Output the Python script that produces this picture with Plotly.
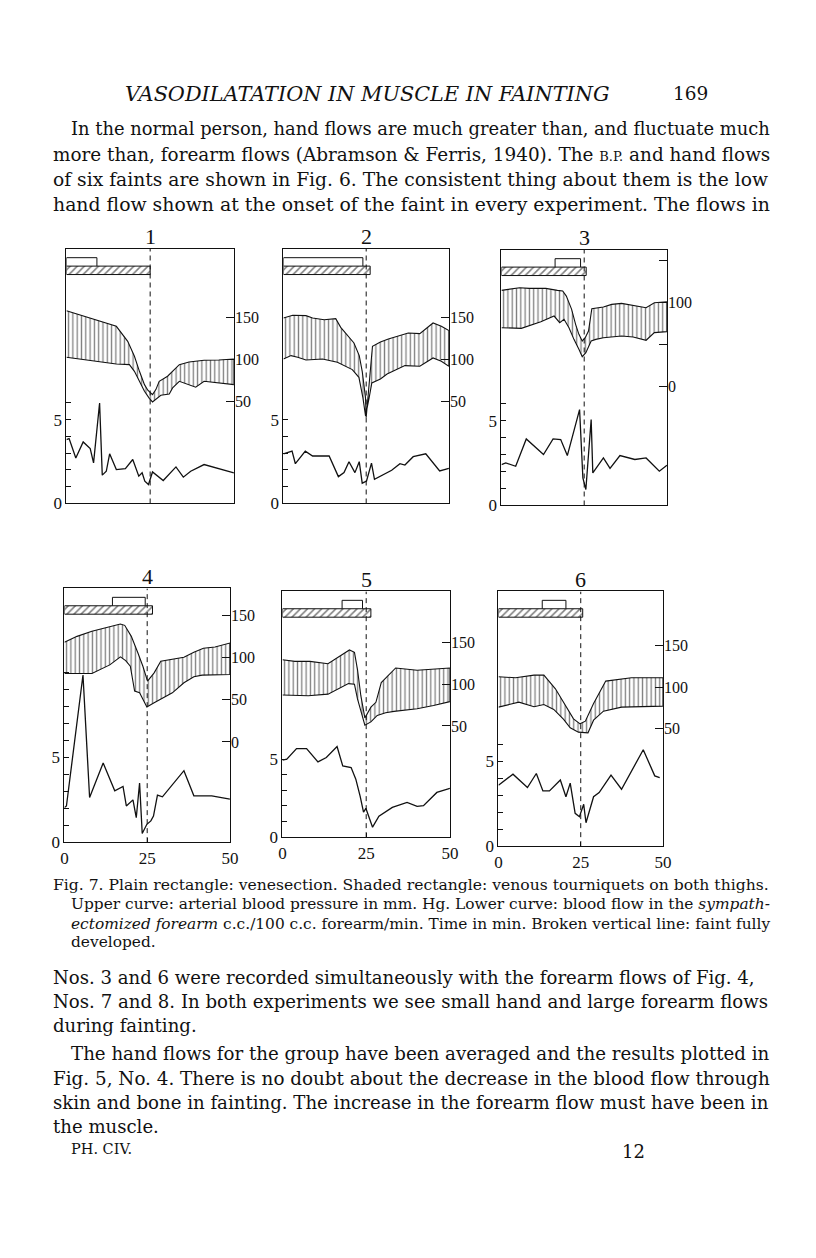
import plotly.graph_objects as go

W, H = 816, 1258
SERIF = "Liberation Serif"
BODY = "DejaVu Serif"
SX, SY = 1.007, 1.007  # small page-geometry correction

# ---------------- data (time in min) ----------------
panel_labels = ["1", "2", "3", "4", "5", "6"]
faint_time = [25, 25, 25, 25, 25, 25]

venesection_start = [0, 0, 16.2, 14.5, 17.8, 13.3]
venesection_end = [9.1, 24.0, 23.9, 24.4, 23.9, 20.5]
tourniquet_start = [0, 0, 0, 0, 0, 0]
tourniquet_end = [25.0, 26.2, 25.6, 26.6, 26.4, 25.6]

# Upper curve: systolic / diastolic blood pressure (mm Hg)
sys_t_1 = [0, 14.9, 18.3, 20.3, 21.8, 23.3, 24.3, 25.2, 25.7, 26.7, 27.7, 30.2, 31.7, 33.7, 36.6, 41.1, 45.5, 50]
sys_1 = [158.3, 139.7, 121.8, 104.0, 86.1, 70.2, 63.5, 60.3, 58.3, 64.3, 74.2, 80.2, 86.1, 94.0, 97.2, 99.2, 99.6, 100.8]
dia_t_1 = [0, 14.9, 18.8, 20.3, 21.8, 23.3, 24.8, 25.7, 26.7, 28.2, 30.7, 31.7, 33.7, 36.6, 38.6, 41.1, 45.5, 50]
dia_1 = [102.8, 94.8, 94.0, 86.1, 74.2, 62.3, 53.6, 49.6, 52.4, 57.5, 59.1, 66.3, 74.2, 70.2, 67.1, 74.2, 72.6, 70.2]

sys_t_2 = [0, 2.8, 6.8, 8.8, 12.3, 15.8, 17.3, 21.3, 22.9, 23.8, 24.8, 25.0, 26.9, 29.3, 31.7, 34.7, 37.7, 41.2, 43.2, 45.2, 47.7, 50]
sys_2 = [149.6, 152.8, 152.4, 149.6, 147.6, 148.8, 138.5, 119.8, 104.8, 86.1, 54.4, 31.0, 115.9, 121.0, 124.6, 128.6, 131.7, 131.0, 137.7, 143.7, 139.7, 134.6]
dia_t_2 = [0, 2.3, 4.3, 6.8, 11.8, 16.3, 20.8, 22.8, 24.0, 24.8, 25.9, 26.7, 29.3, 31.3, 34.3, 36.7, 41.2, 45.2, 47.7, 50]
dia_2 = [100.8, 104.8, 102.8, 99.6, 100.8, 96.8, 88.1, 78.9, 54.8, 32.9, 54.8, 72.2, 77.0, 82.9, 88.1, 92.9, 92.1, 102.0, 98.0, 92.1]

sys_t_3 = [0, 2.5, 5.5, 8.4, 13.4, 16.9, 18.5, 19.6, 21.2, 22.4, 23.4, 24.4, 25.3, 26.3, 27.3, 30.8, 33.3, 36.3, 39.3, 43.7, 46.2, 50]
sys_3 = [114.7, 115.9, 117.9, 117.1, 117.1, 114.7, 113.9, 107.9, 92.1, 74.2, 62.3, 54.4, 58.3, 66.3, 92.9, 94.8, 98.0, 99.2, 96.8, 94.0, 100.0, 101.2]
dia_t_3 = [0, 6.0, 11.9, 15.9, 17.6, 18.9, 20.4, 21.9, 23.4, 24.4, 25.5, 27.1, 28.5, 30.8, 33.3, 36.3, 39.8, 43.7, 46.2, 50]
dia_3 = [70.2, 69.4, 77.4, 84.1, 76.2, 80.2, 70.2, 56.3, 44.4, 35.7, 40.5, 54.4, 56.3, 58.3, 59.5, 60.3, 59.1, 55.2, 64.3, 65.5]

sys_t_4 = [0, 3.8, 8.3, 13.7, 16.9, 18.2, 20.2, 22.2, 23.7, 25.1, 27.1, 29.1, 32.6, 36.1, 39.1, 42.0, 45.5, 50]
sys_4 = [118.4, 125.5, 131.5, 137.4, 140.2, 138.6, 125.5, 105.8, 90.0, 72.2, 82.1, 95.9, 97.9, 100.7, 106.6, 111.3, 112.9, 117.6]
dia_t_4 = [0, 8.3, 13.7, 16.9, 18.5, 19.9, 21.2, 22.7, 23.7, 24.9, 27.1, 29.1, 32.6, 36.1, 39.1, 41.6, 50]
dia_4 = [81.3, 81.3, 91.6, 101.1, 96.7, 90.0, 60.4, 58.4, 50.5, 41.5, 46.6, 51.3, 58.4, 70.3, 77.4, 79.4, 80.1]

sys_t_5 = [0, 3.7, 8.2, 13.6, 20.0, 21.5, 22.4, 23.4, 24.6, 26.4, 27.9, 29.5, 33.8, 40.2, 50]
sys_5 = [129.4, 127.5, 127.5, 124.7, 141.2, 138.4, 117.6, 86.3, 59.6, 72.5, 78.4, 102.0, 119.6, 116.9, 119.6]
dia_t_5 = [0, 7.7, 13.6, 19.7, 21.5, 22.4, 23.4, 24.6, 26.4, 28.3, 30.8, 33.3, 40.2, 45.1, 50]
dia_5 = [87.1, 86.3, 88.2, 100.8, 100.0, 82.4, 66.7, 51.0, 54.9, 62.7, 65.9, 67.5, 70.6, 74.5, 79.2]

sys_t_6 = [0, 5.2, 10.8, 13.8, 17.3, 20.5, 22.8, 24.8, 26.4, 28.9, 32.6, 40.4, 50]
sys_6 = [112.4, 111.2, 114.4, 114.4, 98.0, 78.0, 62.0, 56.0, 59.2, 80.4, 107.2, 111.2, 111.2]
dia_t_6 = [0, 6.2, 10.8, 13.8, 16.8, 19.8, 21.8, 24.3, 27.2, 28.9, 31.9, 37.4, 50]
dia_6 = [76.0, 82.0, 76.4, 79.2, 73.2, 61.2, 51.2, 46.0, 45.2, 60.4, 71.2, 76.0, 77.2]

# Lower curve: blood flow (c.c./100 c.c./min)
flow_t_1 = [0, 0.8, 2.8, 5.0, 7.1, 8.1, 9.9, 10.7, 11.9, 12.9, 14.9, 17.6, 19.8, 21.6, 22.6, 23.4, 24.5, 25.7, 28.9, 32.7, 34.9, 37.1, 41.1, 46.5, 50]
flow_1 = [3.81, 3.87, 2.71, 3.67, 3.27, 2.42, 5.99, 1.69, 1.92, 2.96, 2.02, 2.08, 2.62, 1.63, 1.83, 1.33, 1.13, 1.88, 1.37, 2.18, 1.57, 1.92, 2.32, 2.02, 1.83]
flow_t_2 = [0, 2.6, 3.6, 6.6, 8.8, 13.8, 16.6, 18.3, 19.8, 21.6, 22.9, 23.8, 25.1, 26.6, 27.5, 30.2, 32.7, 35.2, 36.7, 39.2, 43.0, 47.2, 50]
flow_2 = [2.96, 3.12, 2.37, 3.12, 2.83, 2.83, 1.60, 1.84, 2.49, 1.84, 2.49, 1.21, 1.34, 2.41, 1.44, 1.74, 1.98, 2.37, 2.29, 2.79, 2.96, 1.94, 2.09]
flow_t_3 = [0, 1.3, 4.3, 7.5, 12.7, 15.6, 17.9, 19.9, 23.6, 24.6, 25.5, 27.1, 27.6, 30.8, 32.8, 35.8, 40.3, 43.7, 47.7, 50]
flow_3 = [2.41, 2.51, 2.31, 3.92, 3.0, 3.92, 3.88, 2.94, 5.65, 1.63, 0.94, 5.06, 1.92, 2.80, 2.18, 2.94, 2.71, 2.80, 2.02, 2.37]
flow_t_4 = [0, 0.6, 5.6, 7.6, 11.7, 15.2, 17.7, 18.7, 20.7, 21.7, 22.7, 23.5, 24.9, 26.1, 26.9, 28.1, 29.6, 36.1, 39.1, 44.5, 50]
flow_4 = [2.04, 2.13, 9.84, 2.63, 4.66, 3.02, 3.28, 2.13, 2.49, 1.44, 3.48, 0.51, 1.05, 1.25, 1.54, 2.77, 2.67, 4.21, 2.73, 2.73, 2.53]
flow_t_5 = [0, 1.3, 4.2, 7.2, 10.6, 13.1, 16.3, 18.0, 20.5, 21.9, 23.2, 24.2, 24.9, 25.7, 26.9, 28.8, 32.8, 37.2, 40.2, 42.1, 46.1, 50]
flow_5 = [4.94, 5.0, 5.68, 5.68, 4.83, 5.11, 5.81, 4.57, 4.47, 3.72, 2.62, 1.60, 1.85, 1.34, 0.64, 1.34, 1.91, 2.23, 1.98, 2.02, 2.87, 3.13]
flow_t_6 = [0, 4.4, 8.8, 11.5, 13.5, 15.5, 18.8, 20.5, 21.8, 23.3, 24.6, 25.9, 26.6, 28.9, 30.6, 34.2, 37.4, 44.0, 47.5, 49.0]
flow_6 = [3.60, 4.25, 3.46, 4.29, 3.26, 3.26, 3.91, 2.92, 3.72, 1.94, 1.74, 2.47, 1.38, 2.92, 3.16, 4.19, 3.36, 5.69, 4.15, 4.05]

sys_t = [sys_t_1, sys_t_2, sys_t_3, sys_t_4, sys_t_5, sys_t_6]
sys_v = [sys_1, sys_2, sys_3, sys_4, sys_5, sys_6]
dia_t = [dia_t_1, dia_t_2, dia_t_3, dia_t_4, dia_t_5, dia_t_6]
dia_v = [dia_1, dia_2, dia_3, dia_4, dia_5, dia_6]
flow_t = [flow_t_1, flow_t_2, flow_t_3, flow_t_4, flow_t_5, flow_t_6]
flow_v = [flow_1, flow_2, flow_3, flow_4, flow_5, flow_6]

time_ticks = [0, 25, 50]
flow_tick_max = [6, 5, 6, 10, 5, 6]
bp_tickvals = [[150, 100, 50], [150, 100, 50], [150, 100, 50, 0], [150, 100, 50, 0], [150, 100, 50], [150, 100, 50]]
bp_ticktext = [["150", "100", "50"], ["150", "100", "50"], ["", "100", "", "0"],
               ["150", "100", "50", "0"], ["150", "100", "50"], ["150", "100", "50"]]

# ---------------- layout geometry (page pixels) ----------------
boxes = [(63, 232, 249, 504), (282, 449, 249, 504), (502, 669, 250, 506),
         (61, 228, 589, 843), (281, 450, 592, 838), (499, 665, 592, 847)]
flow_top = [15.18, 15.18, 15.06, 14.94, 15.77, 15.04]
bp_range = [(-71.4, 232.1), (-71.4, 232.1), (-141.7, 163.1), (-119.1, 182.5), (-83.5, 211.5), (-90.6, 214.7)]


def px(x):
    return x * SX / W


def py(y):
    return 1 - y * SY / H


INK = "#111111"
fig = go.Figure()
layout = dict(width=W, height=H, margin=dict(l=0, r=0, t=0, b=0), autosize=False,
              paper_bgcolor="white", plot_bgcolor="rgba(0,0,0,0)", showlegend=False,
              font=dict(family=SERIF, color=INK, size=15))
annotations = []

for i in range(6):
    k = i + 1
    L, R, T, B = boxes[i]
    hpx = (B - T) * SY
    top = flow_top[i]
    upx = top / hpx  # flow units per pixel
    xa, ya, yb = f"x{k}", f"y{k}", f"y{k + 6}"
    bottom_row = i >= 3
    layout["xaxis" + ("" if k == 1 else str(k))] = dict(
        domain=[px(L), px(R)], anchor=ya, range=[0, 50], showgrid=False, zeroline=False,
        showline=True, mirror=True, linecolor=INK, linewidth=1,
        tickvals=time_ticks, ticks="inside" if bottom_row else "", ticklen=4, tickcolor=INK,
        showticklabels=bottom_row, tickfont=dict(family=SERIF, size=17, color=INK))
    fticks = list(range(0, flow_tick_max[i] + 1))
    layout["yaxis" + ("" if k == 1 else str(k))] = dict(
        domain=[py(B), py(T)], anchor=xa, range=[0, top], showgrid=False, zeroline=False,
        showline=True, mirror=True, linecolor=INK, linewidth=1,
        tickvals=fticks, ticktext=[str(v) if v in (0, 5) else "" for v in fticks],
        ticks="inside", ticklen=5, tickcolor=INK, tickfont=dict(family=SERIF, size=17, color=INK))
    layout[f"yaxis{k + 6}"] = dict(
        overlaying=ya, anchor=xa, side="right", range=list(bp_range[i]), showgrid=False,
        zeroline=False, showline=False, tickvals=bp_tickvals[i], ticktext=bp_ticktext[i],
        ticks="inside", ticklen=8, tickcolor=INK, tickfont=dict(family=SERIF, size=16, color=INK))

    # blood-pressure band (vertical hatching between systolic and diastolic)
    fig.add_trace(go.Scatter(
        x=sys_t[i] + dia_t[i][::-1], y=sys_v[i] + dia_v[i][::-1], xaxis=xa, yaxis=yb,
        mode="lines", fill="toself", fillcolor="rgba(0,0,0,0)",
        fillpattern=dict(shape="|", size=4.3, solidity=0.3, fgcolor="black", bgcolor="rgba(0,0,0,0)"),
        line=dict(color=INK, width=1.1), hoverinfo="skip"))
    # flow curve
    fig.add_trace(go.Scatter(x=flow_t[i], y=flow_v[i], xaxis=xa, yaxis=ya, mode="lines",
                             line=dict(color=INK, width=1.3)))
    # faint fully developed
    fig.add_trace(go.Scatter(x=[faint_time[i], faint_time[i]], y=[0, top], xaxis=xa, yaxis=ya,
                             mode="lines", line=dict(color=INK, width=1, dash="5px,4px")))
    # tourniquet (shaded) rectangle
    h_lo, h_hi = top - 26 * upx, top - 17.5 * upx
    ts, te = tourniquet_start[i], tourniquet_end[i]
    fig.add_trace(go.Scatter(x=[ts, te, te, ts, ts], y=[h_lo, h_lo, h_hi, h_hi, h_lo], xaxis=xa, yaxis=ya,
                             mode="lines", fill="toself", fillcolor="rgba(0,0,0,0)",
                             fillpattern=dict(shape="/", size=5, solidity=0.32, fgcolor="black", bgcolor="rgba(0,0,0,0)"),
                             line=dict(color=INK, width=1)))
    # venesection (plain) rectangle
    p_hi = top - 9 * upx
    vs, ve = venesection_start[i], venesection_end[i]
    fig.add_trace(go.Scatter(x=[vs, vs, ve, ve], y=[h_hi, p_hi, p_hi, h_hi], xaxis=xa, yaxis=ya,
                             mode="lines", line=dict(color=INK, width=1)))
    # panel number
    annotations.append(dict(text=panel_labels[i], x=px((L + R) / 2), y=py(T - 12),
                            xref="paper", yref="paper", xanchor="center", yanchor="middle",
                            showarrow=False, font=dict(family=SERIF, size=22, color=INK)))


def txt(s, x, y, size=18.2, anchor="left", family=BODY):
    annotations.append(dict(text=s, x=px(x), y=py(y), xref="paper", yref="paper",
                            xanchor=anchor, yanchor="middle", showarrow=False,
                            font=dict(family=family, size=size, color=INK)))


SC = '<span style="font-size:13px">'
CAP = 15.4
txt("<i>VASODILATATION IN MUSCLE IN FAINTING</i>", 120, 94, 20.8)
txt("169", 673, 94, 18.5)
txt("In the normal person, hand flows are much greater than, and fluctuate much", 66, 129, 17.9)
txt("more than, forearm flows (Abramson &amp; Ferris, 1940). The " + SC + "B.P.</span> and hand flows", 47, 155, 18.4)
txt("of six faints are shown in Fig. 6. The consistent thing about them is the low", 47, 180, 18.7)
txt("hand flow shown at the onset of the faint in every experiment. The flows in", 47, 205, 18.85)

txt("Fig. 7. Plain rectangle: venesection. Shaded rectangle: venous tourniquets on both thighs.", 47, 886, 15.6)
txt("Upper curve: arterial blood pressure in mm. Hg. Lower curve: blood flow in the <i>sympath-</i>", 66, 905, CAP)
txt("<i>ectomized forearm</i> c.c./100 c.c. forearm/min. Time in min. Broken vertical line: faint fully", 66, 925, CAP)
txt("developed.", 66, 943, CAP)

txt("Nos. 3 and 6 were recorded simultaneously with the forearm flows of Fig. 4,", 47, 978, 18.1)
txt("Nos. 7 and 8. In both experiments we see small hand and large forearm flows", 47, 1003, 18.15)
txt("during fainting.", 47, 1027, 18.1)
txt("The hand flows for the group have been averaged and the results plotted in", 66, 1055, 18.2)
txt("Fig. 5, No. 4. There is no doubt about the decrease in the blood flow through", 47, 1080, 18.35)
txt("skin and bone in fainting. The increase in the forearm flow must have been in", 47, 1104, 18.15)
txt("the muscle.", 47, 1128, 18.1)
txt("PH. CIV.", 66, 1150, 14.5)
txt("12", 622, 1153, 18)

layout["annotations"] = annotations
fig.update_layout(**layout)
fig.write_html(
    "out.html", config={"displayModeBar": False},
    post_script=("document.documentElement.style.margin='0';"
                 "document.body.style.margin='0';document.body.style.overflow='hidden';"))
